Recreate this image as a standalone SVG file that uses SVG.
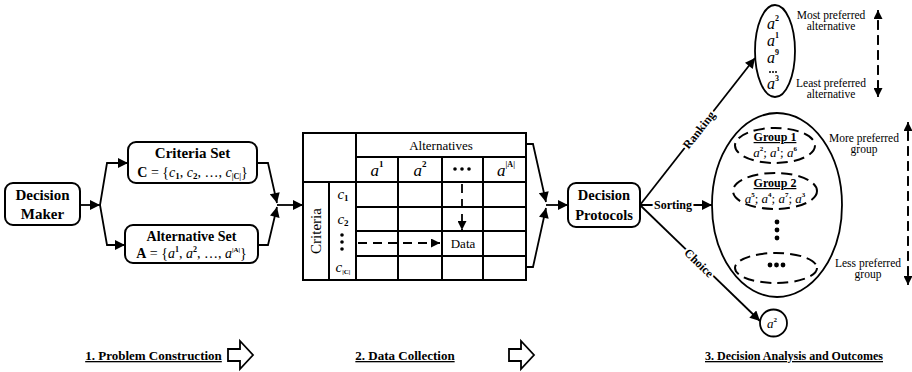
<svg xmlns="http://www.w3.org/2000/svg" width="912" height="372" viewBox="0 0 912 372">
  <style>
    text { font-family: "Liberation Serif", "Times New Roman", serif; fill: #000; }
    .box { fill: #fff; stroke: #000; stroke-width: 2; }
    .ln { fill: none; stroke: #000; stroke-width: 1.8; }
    .grid { fill: none; stroke: #000; stroke-width: 2; }
    .dash { fill: none; stroke: #000; stroke-width: 1.8; stroke-dasharray: 9 6; }
    .gdash { fill: none; stroke: #000; stroke-width: 2; stroke-dasharray: 11 6; }
    .b { font-weight: bold; }
    .it { font-style: italic; }
    .lbl { font-weight: bold; font-size: 12px; stroke: #fff; stroke-width: 4; paint-order: stroke; text-anchor: middle; }
    .note { font-size: 11.5px; text-anchor: middle; }
    .title { font-weight: bold; font-size: 13px; text-decoration: underline; text-anchor: middle; }
    .mid { text-anchor: middle; }
  </style>
  <defs>
    <marker id="ah" viewBox="0 0 10 10" refX="10" refY="5" markerWidth="11" markerHeight="10" markerUnits="userSpaceOnUse" orient="auto">
      <path d="M0,0 L10,5 L0,10 Z" fill="#000"/>
    </marker>
    <marker id="ahs" viewBox="0 0 10 10" refX="10" refY="5" markerWidth="10" markerHeight="9" markerUnits="userSpaceOnUse" orient="auto">
      <path d="M0,0 L10,5 L0,10 Z" fill="#000"/>
    </marker>
  </defs>

  <!-- connectors -->
  <g id="connectors">
    <!-- decision maker to the two sets -->
    <path class="ln" d="M80,205 H100" marker-end="url(#ah)"/>
    <path class="ln" d="M100,205 L107,163 H128" marker-end="url(#ah)"/>
    <path class="ln" d="M100,205 L107,245 H125" marker-end="url(#ah)"/>
    <!-- sets into the data table -->
    <path class="ln" d="M257,163 H268 L277,203" marker-end="url(#ah)"/>
    <path class="ln" d="M258,245 H268 L277,207" marker-end="url(#ah)"/>
    <path class="ln" d="M277,205 H303" marker-end="url(#ah)"/>
    <!-- table into decision protocols -->
    <path class="ln" d="M526,144 H533 L546,202" marker-end="url(#ah)"/>
    <path class="ln" d="M526,267 H533 L546,208" marker-end="url(#ah)"/>
    <path class="ln" d="M546,205 H568" marker-end="url(#ah)"/>
    <!-- outcomes -->
    <path class="ln" d="M640,205 L755,58" marker-end="url(#ah)"/>
    <path class="ln" d="M640,205 H712" marker-end="url(#ah)"/>
    <path class="ln" d="M640,205 L760,321" marker-end="url(#ah)"/>
    <text class="lbl" transform="translate(699,130) rotate(-52)" y="4">Ranking</text>
    <text class="lbl" x="673" y="209">Sorting</text>
    <text class="lbl" transform="translate(699,263) rotate(44)" y="4">Choice</text>
  </g>

  <!-- decision maker -->
  <g id="decision-maker">
    <rect class="box" x="5" y="183" width="75" height="42" rx="8"/>
    <text class="b mid" x="42.5" y="200" font-size="15">Decision</text>
    <text class="b mid" x="42.5" y="219" font-size="15">Maker</text>
  </g>

  <!-- criteria set -->
  <g id="criteria-set">
    <rect class="box" x="128" y="142" width="129" height="41" rx="8"/>
    <text class="b mid" x="192.5" y="158" font-size="15">Criteria Set</text>
    <text class="mid" x="192.5" y="177" font-size="14"><tspan class="b">C</tspan> = {<tspan class="it">c</tspan><tspan class="b" font-size="9" dy="2">1</tspan><tspan dy="-2">, </tspan><tspan class="it">c</tspan><tspan class="b" font-size="9" dy="2">2</tspan><tspan dy="-2">, …, </tspan><tspan class="it">c</tspan><tspan class="b" font-size="8" dy="2">|C|</tspan><tspan dy="-2">}</tspan></text>
  </g>

  <!-- alternative set -->
  <g id="alternative-set">
    <rect class="box" x="125" y="225" width="133" height="38" rx="8"/>
    <text class="b mid" x="191.5" y="241" font-size="14">Alternative Set</text>
    <text class="mid" x="191.5" y="258" font-size="14"><tspan class="b">A</tspan> = {<tspan class="it">a</tspan><tspan class="b" font-size="8" dy="-6">1</tspan><tspan dy="6">, </tspan><tspan class="it">a</tspan><tspan class="b" font-size="8" dy="-6">2</tspan><tspan dy="6">, …, </tspan><tspan class="it">a</tspan><tspan class="b" font-size="7" dy="-6">|A|</tspan><tspan dy="6">}</tspan></text>
  </g>

  <!-- data table -->
  <g id="data-table">
    <rect class="grid" x="303" y="133" width="223" height="147"/>
    <path class="grid" d="M356,133 V280 M356,157 H526 M303,182 H526 M329,182 V280 M398,157 V280 M442,157 V280 M483,157 V280 M356,207 H526 M356,231 H526 M356,256 H526"/>
    <text class="mid" x="441" y="150" font-size="13">Alternatives</text>
    <text class="mid it" x="377" y="176" font-size="17">a<tspan class="b" font-size="9" font-style="normal" dy="-9">1</tspan></text>
    <text class="mid it" x="420" y="176" font-size="17">a<tspan class="b" font-size="9" font-style="normal" dy="-9">2</tspan></text>
    <circle cx="455" cy="169" r="1.8"/><circle cx="462" cy="169" r="1.8"/><circle cx="469" cy="169" r="1.8"/>
    <text class="mid it" x="506" y="176" font-size="17">a<tspan class="b" font-size="8" font-style="normal" dy="-9">|A|</tspan></text>
    <text class="mid" transform="translate(321,231) rotate(-90)" font-size="15">Criteria</text>
    <text class="mid it" x="343" y="199" font-size="15">c<tspan class="b" font-size="9" font-style="normal" dy="2">1</tspan></text>
    <text class="mid it" x="343" y="224" font-size="15">c<tspan class="b" font-size="9" font-style="normal" dy="2">2</tspan></text>
    <circle cx="342" cy="235" r="1.8"/><circle cx="342" cy="242" r="1.8"/><circle cx="342" cy="249" r="1.8"/>
    <text class="mid it" x="343" y="272" font-size="15">c<tspan class="b" font-size="7" font-style="normal" dy="2">|C|</tspan></text>
    <path class="dash" d="M462,184 V230" marker-end="url(#ahs)"/>
    <path class="dash" d="M358,243 H440" marker-end="url(#ahs)"/>
    <text class="mid" x="463" y="248" font-size="13">Data</text>
  </g>

  <!-- decision protocols -->
  <g id="decision-protocols">
    <rect class="box" x="568" y="183" width="72" height="44" rx="8"/>
    <text class="b mid" x="604" y="200" font-size="14.5">Decision</text>
    <text class="b mid" x="604" y="220" font-size="14.5">Protocols</text>
  </g>

  <!-- ranking outcome -->
  <g id="ranking">
    <ellipse class="ln" cx="775" cy="51" rx="20" ry="46"/>
    <text class="mid it" x="773" y="29" font-size="16">a<tspan class="b" font-size="8" font-style="normal" dy="-8">2</tspan></text>
    <text class="mid it" x="773" y="46" font-size="16">a<tspan class="b" font-size="8" font-style="normal" dy="-8">1</tspan></text>
    <text class="mid it" x="773" y="63" font-size="16">a<tspan class="b" font-size="8" font-style="normal" dy="-8">9</tspan></text>
    <circle cx="770" cy="72" r="1"/><circle cx="773" cy="72" r="1"/><circle cx="776" cy="72" r="1"/>
    <text class="mid it" x="773" y="89" font-size="16">a<tspan class="b" font-size="8" font-style="normal" dy="-8">3</tspan></text>
    <text class="note" x="831" y="19">Most preferred</text>
    <text class="note" x="831" y="30">alternative</text>
    <text class="note" x="831" y="87">Least preferred</text>
    <text class="note" x="831" y="98">alternative</text>
    <path class="dash" d="M878,90 V10" marker-end="url(#ahs)"/>
    <path class="dash" d="M878,20 V97" marker-end="url(#ahs)"/>
  </g>

  <!-- sorting outcome -->
  <g id="sorting">
    <ellipse class="ln" cx="777" cy="205" rx="65" ry="92"/>
    <ellipse class="gdash" cx="775" cy="145.5" rx="40" ry="17.5"/>
    <text class="b mid" x="775" y="141" font-size="12" text-decoration="underline">Group 1</text>
    <text class="mid it" x="775" y="157" font-size="13">a<tspan class="b" font-size="7" font-style="normal" dy="-6">2</tspan><tspan font-style="normal" dy="6">; </tspan>a<tspan class="b" font-size="7" font-style="normal" dy="-6">1</tspan><tspan font-style="normal" dy="6">; </tspan>a<tspan class="b" font-size="7" font-style="normal" dy="-6">6</tspan></text>
    <ellipse class="gdash" cx="775" cy="191" rx="42" ry="18"/>
    <text class="b mid" x="775" y="187" font-size="12" text-decoration="underline">Group 2</text>
    <text class="mid it" x="775" y="203" font-size="13">a<tspan class="b" font-size="7" font-style="normal" dy="-6">5</tspan><tspan font-style="normal" dy="6">; </tspan>a<tspan class="b" font-size="7" font-style="normal" dy="-6">4</tspan><tspan font-style="normal" dy="6">; </tspan>a<tspan class="b" font-size="7" font-style="normal" dy="-6">7</tspan><tspan font-style="normal" dy="6">; </tspan>a<tspan class="b" font-size="7" font-style="normal" dy="-6">3</tspan></text>
    <circle cx="777" cy="222" r="2.4"/><circle cx="777" cy="230" r="2.4"/><circle cx="777" cy="238" r="2.4"/>
    <ellipse class="gdash" cx="776" cy="268" rx="41" ry="15"/>
    <circle cx="770" cy="265" r="2.4"/><circle cx="776.5" cy="265" r="2.4"/><circle cx="783" cy="265" r="2.4"/>
    <text class="note" x="864" y="142">More preferred</text>
    <text class="note" x="864" y="153">group</text>
    <text class="note" x="868" y="267">Less preferred</text>
    <text class="note" x="868" y="278">group</text>
    <path class="dash" d="M908,275 V122" marker-end="url(#ahs)"/>
    <path class="dash" d="M908,132 V285" marker-end="url(#ahs)"/>
  </g>

  <!-- choice outcome -->
  <g id="choice">
    <circle class="ln" cx="773.5" cy="323" r="13.5"/>
    <text class="mid it" x="772" y="328" font-size="13">a<tspan class="b" font-size="7" font-style="normal" dy="-6">2</tspan></text>
  </g>

  <!-- phase labels -->
  <g id="phase-1">
    <text class="title" x="153.5" y="360">1. Problem Construction</text>
    <path class="ln" d="M228,349 H240 V341 L253,355 L240,369 V361 H228 Z"/>
  </g>
  <g id="phase-2">
    <text class="title" x="405" y="360">2. Data Collection</text>
    <path class="ln" d="M509,349 H521 V341 L534,355 L521,369 V361 H509 Z"/>
  </g>
  <g id="phase-3">
    <text class="title" x="794" y="360" textLength="178" lengthAdjust="spacingAndGlyphs">3. Decision Analysis and Outcomes</text>
  </g>
</svg>
